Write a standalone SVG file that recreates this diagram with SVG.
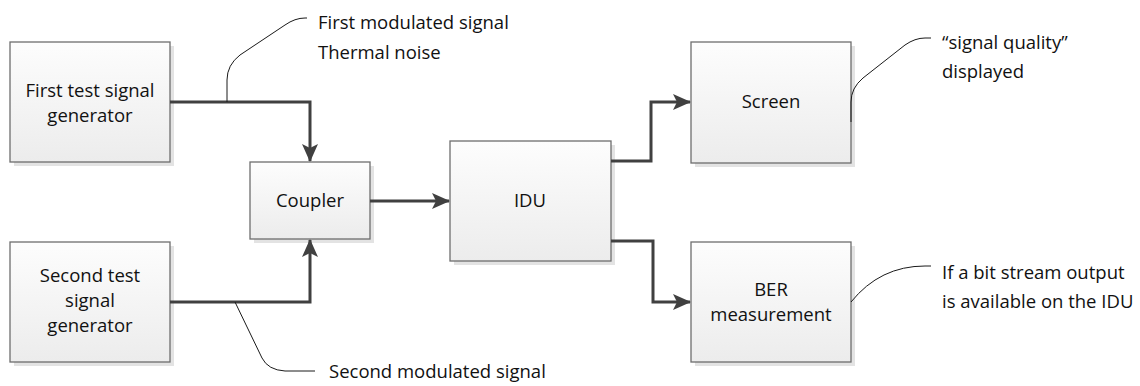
<svg xmlns="http://www.w3.org/2000/svg" width="1140" height="386" viewBox="0 0 1140 386">
<defs>
<linearGradient id="g" x1="0" y1="0" x2="0" y2="1">
<stop offset="0" stop-color="#fdfdfd"/>
<stop offset="1" stop-color="#ececec"/>
</linearGradient>
<marker id="ah" viewBox="0 0 18 16" refX="17" refY="8" markerWidth="18" markerHeight="16" markerUnits="userSpaceOnUse" orient="auto">
<path d="M0,0 L18,8 L0,16 L4,8 Z" fill="#404040"/>
</marker>
<style>
.box{fill:url(#g);stroke:#6e6e6e;stroke-width:1.3}
.sh{fill:#e3e3e3}
.t{font-family:"Open Sans","Noto Sans","Liberation Sans",sans-serif;font-size:18.5px;fill:#111}
.c{text-anchor:middle}
.conn{fill:none;stroke:#404040;stroke-width:3;marker-end:url(#ah)}
.call{fill:none;stroke:#1a1a1a;stroke-width:1}
</style>
</defs>
<rect width="1140" height="386" fill="#fff"/>
<g id="gen1"><rect class="sh" x="14" y="46" width="160" height="120"/><rect class="box" x="10" y="42" width="160" height="120"/><text class="t c" x="90" y="97">First test signal</text><text class="t c" x="90" y="122">generator</text></g>
<g id="gen2"><rect class="sh" x="14" y="246" width="160" height="120"/><rect class="box" x="10" y="242" width="160" height="120"/><text class="t c" x="90" y="282">Second test</text><text class="t c" x="90" y="307">signal</text><text class="t c" x="90" y="332">generator</text></g>
<g id="coupler"><rect class="sh" x="254" y="166" width="120" height="77"/><rect class="box" x="250" y="162" width="120" height="77"/><text class="t c" x="310" y="207">Coupler</text></g>
<g id="idu"><rect class="sh" x="454" y="145" width="161" height="120"/><rect class="box" x="450" y="141" width="161" height="120"/><text class="t c" x="530" y="207">IDU</text></g>
<g id="screen"><rect class="sh" x="695" y="46" width="160" height="121"/><rect class="box" x="691" y="42" width="160" height="121"/><text class="t c" x="771" y="108">Screen</text></g>
<g id="ber"><rect class="sh" x="695" y="246" width="160" height="120"/><rect class="box" x="691" y="242" width="160" height="120"/><text class="t c" x="771" y="296">BER</text><text class="t c" x="771" y="321">measurement</text></g>
<g id="connectors">
<path class="conn" d="M170,102 H310 V161"/>
<path class="conn" d="M170,302 H310 V240"/>
<path class="conn" d="M370,201 H449"/>
<path class="conn" d="M611,161 H651 V102 H690"/>
<path class="conn" d="M611,241 H653 V302 H690"/>
</g>
<g id="callouts">
<path class="call" d="M227,102 V80 Q227,65 240,55 L285,25 Q295,18 305,18 H307"/>
<path class="call" d="M235,302 L262,358 Q268,370 285,371 H315"/>
<path class="call" d="M851,122 V102 Q851,88 863,78 L905,45 Q915,38 925,38 H931"/>
<path class="call" d="M851,302 Q880,266 925,266 H931"/>
</g>
<g id="labels">
<text class="t" x="318" y="29">First modulated signal</text>
<text class="t" x="318" y="59">Thermal noise</text>
<text class="t" x="329" y="378">Second modulated signal</text>
<text class="t" x="942" y="49">“signal quality”</text>
<text class="t" x="942" y="78">displayed</text>
<text class="t" x="942" y="279">If a bit stream output</text>
<text class="t" x="942" y="308">is available on the IDU</text>
</g>
</svg>
